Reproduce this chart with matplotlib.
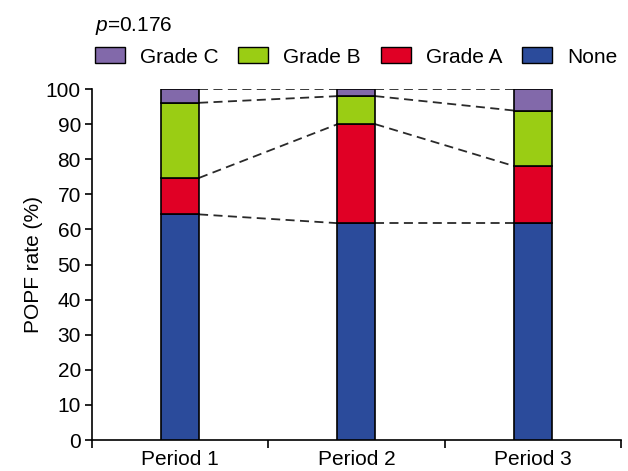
import matplotlib
matplotlib.use("Agg")
import matplotlib.pyplot as plt
import numpy as np
from matplotlib.patches import Patch

periods = ["Period 1", "Period 2", "Period 3"]
grades = ["None", "Grade A", "Grade B", "Grade C"]
none_pct = [64.3, 61.8, 61.8]
grade_a = [10.4, 28.2, 16.3]
grade_b = [21.4, 8.0, 15.8]
grade_c = [3.9, 2.0, 6.1]
p_value = "0.176"

colors = {"None": "#2b4b9b", "Grade A": "#e00025", "Grade B": "#9acd14", "Grade C": "#8269aa"}

plt.rcParams["font.family"] = ["Liberation Sans", "DejaVu Sans"]
plt.rcParams["mathtext.fontset"] = "custom"
plt.rcParams["mathtext.it"] = "Liberation Sans:italic"
plt.rcParams["mathtext.rm"] = "Liberation Sans"
fs = 15

fig = plt.figure(figsize=(6.28, 4.71), dpi=100)
ax = fig.add_axes([0.1465, 0.0658, 0.842, 0.745])

x = np.arange(len(periods))
width = 0.215
series = [none_pct, grade_a, grade_b, grade_c]
bottom = np.zeros(len(periods))
tops = []
for name, vals in zip(grades, series):
    vals = np.asarray(vals)
    ax.bar(x, vals, width, bottom=bottom, color=colors[name],
           edgecolor="black", linewidth=1.2, zorder=3)
    bottom = bottom + vals
    tops.append(bottom.copy())

# dashed connectors between segment tops
for top in tops:
    for i in range(len(periods) - 1):
        ax.plot([x[i] + width / 2, x[i + 1] - width / 2], [top[i], top[i + 1]],
                linestyle=(0, (5, 3)), color="#2a2a2a", linewidth=1.3, zorder=2)

ax.set_xlim(-0.5, 2.5)
ax.set_ylim(0, 100)
ax.set_yticks(np.arange(0, 101, 10))
ax.set_xticks(x)
ax.set_xticklabels(periods)
ax.set_xticks(np.arange(-0.5, 2.6, 1), minor=True)
ax.tick_params(axis="x", which="major", length=0, labelsize=fs, pad=7)
ax.tick_params(axis="x", which="minor", length=6, width=1.2)
ax.tick_params(axis="y", length=5, width=1.2, labelsize=fs, pad=3)
ax.set_ylabel("POPF rate (%)", fontsize=fs, labelpad=2)
for s in ["top", "right"]:
    ax.spines[s].set_visible(False)
for s in ["left", "bottom"]:
    ax.spines[s].set_linewidth(1.2)

handles = [Patch(facecolor=colors[g], edgecolor="black", linewidth=1.0)
           for g in ["Grade C", "Grade B", "Grade A", "None"]]
fig.legend(handles, ["Grade C", "Grade B", "Grade A", "None"], ncol=4,
           loc="center left", bbox_to_anchor=(0.151, 0.879), frameon=False,
           fontsize=fs, handlelength=1.44, handleheight=0.77,
           handletextpad=0.72, columnspacing=0.96, borderpad=0, borderaxespad=0)
fig.text(0.151, 0.945, "$p$=" + p_value, fontsize=fs, va="center", ha="left")

fig.savefig("out.png", dpi=100)
